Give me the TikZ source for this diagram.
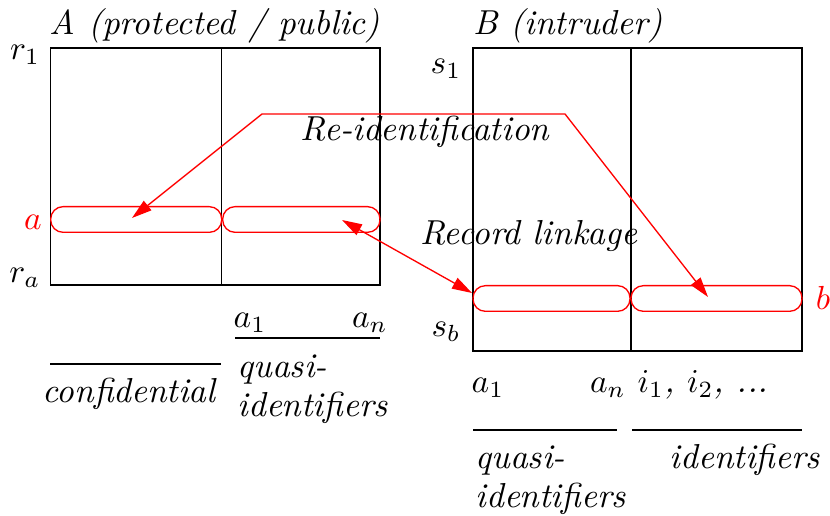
\documentclass[tikz,border=0pt]{standalone}
\usetikzlibrary{arrows.meta}
\begin{document}
\begin{tikzpicture}[x=0.3pt,y=-0.3pt,
  cellA/.style={draw, line width=0.45pt, inner sep=0, outer sep=0, minimum height=71.1pt},
  cellB/.style={draw, line width=0.45pt, inner sep=0, outer sep=0, minimum height=90.9pt},
  rec/.style={draw=red, line width=0.4pt, rounded corners=3.7pt, inner sep=0, outer sep=0, minimum height=7.7pt},
  lbl/.style={inner sep=0, anchor=base, font=\fontsize{10.4}{12.5}\selectfont\itshape},
  lblw/.style={inner sep=0, anchor=base west, font=\fontsize{10.4}{12.5}\selectfont\itshape},
  redlbl/.style={lbl, text=red},
  link/.style={draw=red, line width=0.4pt, {Triangle[length=6pt,width=3.6pt]}-{Triangle[length=6pt,width=3.6pt]}},
  rule/.style={draw, line width=0.45pt}]
\useasboundingbox (0,0) rectangle (830,516);

% tables
\node[cellA, minimum width=51.3pt] (A1) at (136.2,166.5) {};
\node[cellA, minimum width=47.5pt] (A2) at (300.85,166.5) {};
\node[cellB, minimum width=47.4pt] (B1) at (552,199.5) {};
\node[cellB, minimum width=51.3pt] (B2) at (716.5,199.5) {};

% records
\node[rec, minimum width=51.3pt] (ra1) at (136.2,219.5) {};
\node[rec, minimum width=47.2pt] (ra2) at (301.35,219.5) {};
\node[rec, minimum width=47.1pt] (rb1) at (551.5,298.5) {};
\node[rec, minimum width=51.3pt] (rb2) at (716.5,298.5) {};

% titles and row labels
\node[lbl] (tA) at (215,35) {A (protected / public)};
\node[lbl] (tB) at (568,35) {B (intruder)};
\node[lbl] (r1) at (25,60) {$r_1$};
\node[lbl] (ra) at (25,283) {$r_a$};
\node[redlbl] (la) at (33,230) {$a$};
\node[lbl] (s1) at (446,74) {$s_1$};
\node[lbl] (sb) at (446,337) {$s_b$};
\node[redlbl] (lb) at (823,310) {$b$};

% connectors
\coordinate (p1) at (262,114);
\coordinate (p2) at (565,114);
\coordinate (tipA) at (132,218);
\coordinate (tipB) at (708,297);
\draw[link] (tipA) -- (p1) -- (p2) -- (tipB);
\node[lbl] (reid) at (425,141) {Re-identification};

\coordinate (l1) at (342,220);
\coordinate (l2) at (472,293);
\draw[link] (l1) -- (l2);
\node[lbl] (rl) at (529,245) {Record linkage};

% labels below A
\node[lbl] (Aa1) at (250,328) {$a_1$};
\node[lbl] (Aan) at (370,328) {$a_n$};
\draw[rule] (235,338) -- (380,338);
\draw[rule] (50,364) -- (221,364);
\node[lbl] (conf) at (129,403) {confidential};
\node[lblw] (Aq1) at (237,378) {quasi-};
\node[lblw] (Aq2) at (237,417) {identifiers};

% labels below B
\node[lbl] (Ba1) at (488,393) {$a_1$};
\node[lbl] (Ban) at (608,393) {$a_n$};
\node[lbl] (Bi) at (703,393) {$i_1$, $i_2$, ...};
\draw[rule] (473,430) -- (617,430);
\draw[rule] (632,430) -- (802,430);
\node[lblw] (Bq1) at (475,468) {quasi-};
\node[lblw] (Bq2) at (475,507) {identifiers};
\node[lbl] (Bid) at (745,468) {identifiers};
\end{tikzpicture}
\end{document}
